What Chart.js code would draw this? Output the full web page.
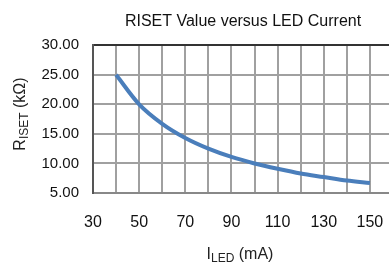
<!DOCTYPE html>
<html lang="en">
<head>
    <meta charset="utf-8" />
    <title>RISET Value versus LED Current</title>
    <script src="https://cdn.jsdelivr.net/npm/chart.js"></script>
    <style>
        html, body { margin: 0; padding: 0; background: #fff; overflow: hidden; }
    </style>
</head>
<body>
    <canvas id="risetChart" width="413" height="262"></canvas>

    <script>
        // values
        const ledCurrent = [40, 50, 60, 70, 80, 90, 100, 110, 120, 130, 140, 150];
        const risetValue = [25.0, 20.0, 16.7, 14.3, 12.5, 11.1, 10.0, 9.1, 8.3, 7.7, 7.1, 6.7];
        const xLabelTicks = [30, 50, 70, 90, 110, 130, 150];

        const FONT = "'Liberation Sans', Arial, sans-serif";
        const gridColor = '#a0a0a0';

        // axis titles need subscripts, so draw them by hand
        const axisTitles = {
            id: 'axisTitles',
            afterDraw(chart) {
                const ctx = chart.ctx;
                ctx.save();
                ctx.fillStyle = '#222';
                ctx.textBaseline = 'alphabetic';

                function drawSub(parts, x, y) {
                    // parts: [text, size, dy]
                    let w = 0;
                    parts.forEach(p => { ctx.font = p[1] + 'px ' + FONT; w += ctx.measureText(p[0]).width; });
                    let cx = x - w / 2;
                    parts.forEach(p => {
                        ctx.font = p[1] + 'px ' + FONT;
                        ctx.textAlign = 'left';
                        ctx.fillText(p[0], cx, y + p[2]);
                        cx += ctx.measureText(p[0]).width;
                    });
                }

                drawSub([['I', 16, 0], ['LED', 12, 3], [' (mA)', 16, 0]], 240, 259);

                ctx.translate(25, 114);
                ctx.rotate(-Math.PI / 2);
                drawSub([['R', 16, 0], ['ISET', 12, 3], [' (k\u03A9)', 16, 0]], 0, 0);
                ctx.restore();
            }
        };

        new Chart(document.getElementById('risetChart'), {
            type: 'line',
            data: {
                datasets: [{
                    label: 'RISET',
                    data: ledCurrent.map((x, i) => ({ x: x, y: risetValue[i] })),
                    borderColor: '#4a7ebb',
                    borderWidth: 4,
                    pointRadius: 0,
                    fill: false,
                    cubicInterpolationMode: 'monotone'
                }]
            },
            options: {
                responsive: false,
                animation: false,
                layout: { autoPadding: false, padding: 0 },
                plugins: {
                    legend: { display: false },
                    tooltip: { enabled: false },
                    title: {
                        display: true,
                        text: 'RISET Value versus LED Current',
                        fullSize: false,
                        color: '#111',
                        font: { family: FONT, size: 16, weight: 'normal' },
                        padding: { top: 12, bottom: 14 }
                    }
                },
                scales: {
                    x: {
                        type: 'linear',
                        min: 30,
                        max: 160,
                        afterFit: s => { s.height = 69; },
                        grid: { color: gridColor, lineWidth: 2, drawTicks: false },
                        border: { color: '#888', width: 2 },
                        ticks: {
                            stepSize: 10,
                            autoSkip: false,
                            maxRotation: 0,
                            padding: 20,
                            color: '#111',
                            font: { family: FONT, size: 16 },
                            callback: v => xLabelTicks.includes(v) ? String(v) : ''
                        }
                    },
                    y: {
                        min: 5,
                        max: 30,
                        afterFit: s => { s.width = 93; },
                        grid: {
                            color: c => c.tick && c.tick.value === 30 ? '#333' : gridColor,
                            lineWidth: 2,
                            drawTicks: false
                        },
                        border: { color: '#555', width: 2 },
                        ticks: {
                            stepSize: 5,
                            padding: 14,
                            color: '#111',
                            font: { family: FONT, size: 15 },
                            callback: v => v.toFixed(2)
                        }
                    }
                }
            },
            plugins: [axisTitles]
        });
    </script>
</body>
</html>
